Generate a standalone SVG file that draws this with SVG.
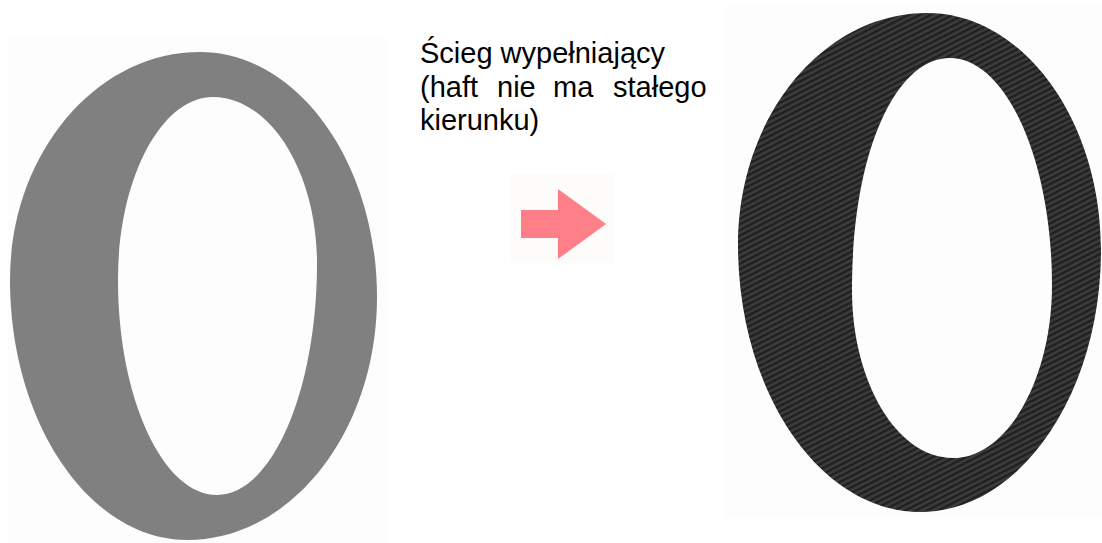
<svg xmlns="http://www.w3.org/2000/svg" width="1102" height="543" viewBox="0 0 1102 543">
  <style>
    .lbl { font-family: "Liberation Sans", Arial, sans-serif; font-size: 29px; fill: #000000; }
    .plain { fill: #808080; fill-rule: evenodd; }
    .stitched { fill: url(#stitch); fill-rule: evenodd; }
    .arrow { fill: #ff7f89; }
    .faint { fill: #fdfdfd; }
  </style>
  <defs>
    <pattern id="stitch" patternUnits="userSpaceOnUse" width="9" height="5" patternTransform="rotate(-27)">
      <rect x="0" y="0" width="9" height="5" fill="#303030"/>
      <rect x="0" y="0" width="9" height="1.5" fill="#1c1c1c"/>
      <rect x="0" y="2.7" width="9" height="1" fill="#464646"/>
    </pattern>
  </defs>
  <rect width="1102" height="543" fill="#ffffff"/>

  <g id="plain-letter">
    <rect class="faint" x="8" y="37" width="380" height="506"/>
    <path class="plain" d="M200,52 C297,52 377,162 377,297 C377,431 292,540 187,540 C90,540 10,423 10,280 C10,155 95,52 200,52 Z
      M213,97 C270,97 317,172 317,263 C317,391 272,495 217,495 C163,495 118,398 118,280 C118,179 161,97 213,97 Z"/>
  </g>

  <g id="label">
    <text class="lbl" x="420" y="63">Ścieg wypełniający</text>
    <text class="lbl" y="97"><tspan x="420">(haft</tspan><tspan x="497">nie</tspan><tspan x="553">ma</tspan><tspan x="613">stałego</tspan></text>
    <text class="lbl" x="420" y="130">kierunku)</text>
  </g>

  <g id="connectors">
    <rect x="511" y="174" width="103" height="89" fill="#fefbfb"/>
    <polygon class="arrow" points="521,210 558,210 558,189 606,224 558,259 558,238 521,238"/>
  </g>

  <g id="stitched-letter">
    <rect class="faint" x="725" y="4" width="377" height="514"/>
    <path class="stitched" d="M927,13 C1023,13 1101,120 1101,250 C1101,394 1020,512 920,512 C820,512 738,392 738,245 C738,117 823,13 927,13 Z
      M950,58 C1006,58 1052,160 1052,285 C1052,380 1007,458 953,458 C897,458 852,382 852,290 C852,151 896,58 950,58 Z"/>
  </g>
</svg>
